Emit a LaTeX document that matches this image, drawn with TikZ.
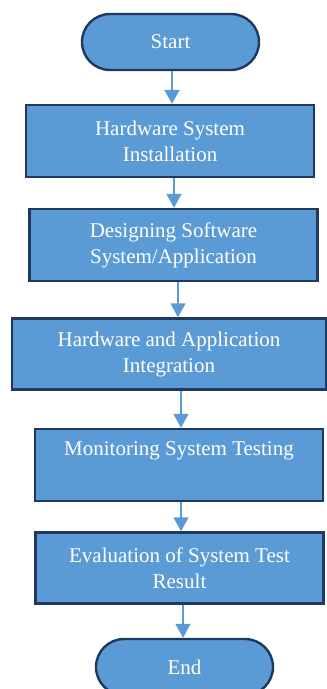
\documentclass[tikz,border=0pt]{standalone}
\usepackage{fontspec}
\setmainfont{Liberation Serif}
\usepackage{xcolor}
\usepackage{tikz}
\usetikzlibrary{shapes.misc,arrows.meta,positioning}
\definecolor{boxblue}{RGB}{91,155,213}
\definecolor{boxedge}{RGB}{32,56,96}
\tikzset{
  blk/.style  = {rectangle, draw=boxedge, fill=boxblue, line width=2.4pt, text=white,
                 align=center, font=\fontsize{21}{26}\selectfont,
                 minimum width=288pt, minimum height=72pt, inner sep=0pt},
  term/.style = {rounded rectangle, draw=boxedge, fill=boxblue, line width=2.4pt, text=white,
                 align=center, font=\fontsize{21}{26}\selectfont,
                 minimum width=177pt, minimum height=56pt, inner sep=0pt},
  fl/.style   = {-{Triangle[length=14pt,width=15pt]}, line width=1.5pt, boxblue},
}
\begin{document}
\begin{tikzpicture}[x=1pt,y=-1pt]
  \useasboundingbox (0,0) rectangle (327,689);
  \node[term] (start) at (170.5,42) {Start};
  \node[blk] (hw) at (170,141) {Hardware System\\ Installation};
  \node[blk] (sw) at (173.5,245) {Designing Software\\ System/Application};
  \node[blk, minimum width=314pt, minimum height=71pt] (integ) at (169,354) {Hardware and Application\\ Integration};
  \node[blk] (mon) at (179,465) {Monitoring System Testing\\ \strut};
  \node[blk, minimum height=71pt] (eval) at (179.5,568) {Evaluation of System Test\\ Result};
  \node[term] (end) at (184.5,667) {End};
  \draw[fl] ([xshift=1.5pt]start.south) -- ([xshift=2pt]hw.north);
  \draw[fl] ([xshift=4pt]hw.south) -- ([xshift=0.5pt]sw.north);
  \draw[fl] ([xshift=4.5pt]sw.south) -- ([xshift=9pt]integ.north);
  \draw[fl] ([xshift=12pt]integ.south) -- ([xshift=2pt]mon.north);
  \draw[fl] ([xshift=2pt]mon.south) -- ([xshift=1.5pt]eval.north);
  \draw[fl] ([xshift=3.5pt]eval.south) -- ([xshift=-1.5pt]end.north);
\end{tikzpicture}
\end{document}
